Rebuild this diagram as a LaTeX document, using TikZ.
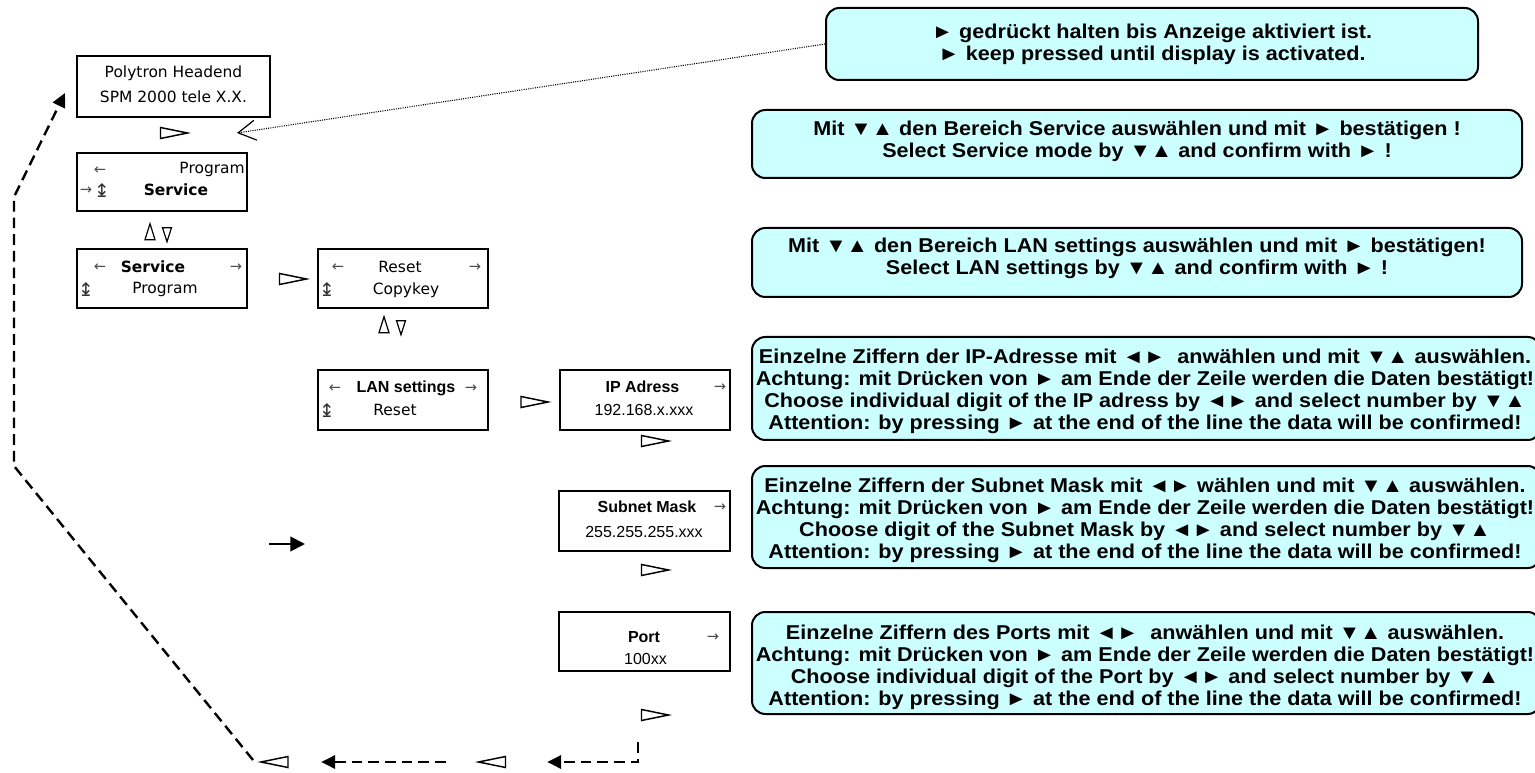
\documentclass[tikz,border=0pt]{standalone}
\usepackage{fontspec}
\setmainfont{DejaVu Sans}
\newfontfamily\arialfont{Liberation Sans}
\newfontfamily\notefont[FakeStretch=1.08]{Liberation Sans}
\usetikzlibrary{arrows.meta,shapes.geometric}
\def\pxu{0.75pt}
\definecolor{notecyan}{HTML}{CCFFFF}
\tikzset{
  lcd/.style={draw, line width=1.5pt, inner sep=0pt},
  note/.style={draw, line width=1.5pt, rounded corners=10pt, fill=notecyan, inner sep=0pt},
  notetext/.style={align=center, inner sep=0pt, font=\notefont\bfseries\fontsize{15pt}{16.5pt}\selectfont},
  vtext/.style={inner sep=0pt, font=\fontsize{11.6pt}{14pt}\selectfont},
  vbold/.style={inner sep=0pt, font=\bfseries\fontsize{11.6pt}{14pt}\selectfont},
  atext/.style={inner sep=0pt, font=\arialfont\fontsize{12pt}{14pt}\selectfont},
  abold/.style={inner sep=0pt, font=\arialfont\bfseries\fontsize{12pt}{14pt}\selectfont},
  sarr/.style={inner sep=0pt, text=black!70, font=\fontsize{11pt}{12pt}\selectfont},
  updown/.style={inner sep=0pt, text=black!80, font=\fontsize{14pt}{16pt}\selectfont},
  ptrr/.style={isosceles triangle, isosceles triangle stretches, draw, line width=1.1pt, inner sep=0pt,
     minimum width=11*\pxu, minimum height=27*\pxu},
  ptrl/.style={ptrr, shape border rotate=180},
  updn/.style={isosceles triangle, isosceles triangle stretches, draw, line width=0.9pt, inner sep=0pt,
     minimum width=10*\pxu, minimum height=16*\pxu},
  dashback/.style={line width=1.8pt, dash pattern=on 8pt off 4.5pt, -{Triangle[length=10.5pt,width=10pt]}},
  dotarrow/.style={line width=0.8pt, dash pattern=on 0.8pt off 0.9pt, -{Straight Barb[length=13pt,width=15pt,line width=0.9pt]}},
}
\begin{document}
\begin{tikzpicture}[x=0.75pt,y=-0.75pt]
\useasboundingbox (0,0) rectangle (1535,773);

% ---------- LCD boxes ----------
\node[lcd, minimum width=193*\pxu, minimum height=61*\pxu] (bA) at (173.5,86.5) {};
\node[vtext] (tA1) at (173.5,73) {Polytron Headend};
\node[vtext] (tA2) at (173.5,97) {SPM 2000 tele X.X.};

\node[lcd, minimum width=170*\pxu, minimum height=58*\pxu] (bB) at (162,182.5) {};
\node[sarr] (tB0) at (100,171) {←};
\node[vtext, anchor=east] (tB1) at (245,169) {Program};
\node[sarr] (tB2) at (86,191) {→};
\node[updown] (tB2b) at (102,191) {↨};
\node[vbold] (tB3) at (176,190) {Service};

\node[lcd, minimum width=170*\pxu, minimum height=59*\pxu] (bC) at (162,278.5) {};
\node[sarr] (tC0) at (100,268) {←};
\node[vbold] (tC1) at (153,267) {Service};
\node[sarr] (tC2) at (236,268) {→};
\node[updown] (tC3) at (86,290) {↨};
\node[vtext] (tC4) at (165,289) {Program};

\node[lcd, minimum width=170*\pxu, minimum height=59*\pxu] (bD) at (403,279) {};
\node[sarr] (tD0) at (338,268) {←};
\node[vtext] (tD1) at (400,267) {Reset};
\node[sarr] (tD2) at (475,268) {→};
\node[updown] (tD3) at (327,290) {↨};
\node[vtext] (tD4) at (406,290) {Copykey};

\node[lcd, minimum width=170*\pxu, minimum height=60*\pxu] (bE) at (403,400) {};
\node[sarr] (tE0) at (335,389) {←};
\node[abold] (tE1) at (406,388) {LAN settings};
\node[sarr] (tE2) at (471,389) {→};
\node[updown] (tE3) at (327,411) {↨};
\node[vtext] (tE4) at (395,410) {Reset};

\node[lcd, minimum width=170*\pxu, minimum height=60*\pxu] (bF) at (645,400) {};
\node[abold] (tF1) at (642.5,387) {IP Adress};
\node[sarr] (tF2) at (720,388) {→};
\node[atext] (tF3) at (644,410) {192.168.x.xxx};

\node[lcd, minimum width=171*\pxu, minimum height=60*\pxu] (bG) at (644.5,521) {};
\node[abold] (tG1) at (647,507) {Subnet Mask};
\node[sarr] (tG2) at (720,508) {→};
\node[atext] (tG3) at (644,532) {255.255.255.xxx};

\node[lcd, minimum width=171*\pxu, minimum height=59*\pxu] (bH) at (644.5,641.5) {};
\node[abold] (tH1) at (644,637) {Port};
\node[sarr] (tH2) at (713,638) {→};
\node[atext] (tH3) at (645.5,659) {100xx};

% ---------- pointer triangles ----------
\node[ptrr] (p1) at (165,133) {};
\node[ptrr] (p2) at (284,279) {};
\node[ptrr] (p3) at (525.5,402) {};
\node[ptrr] (p4) at (646,441) {};
\node[ptrr] (p5) at (646,570) {};
\node[ptrr] (p6) at (646,715) {};
\node[ptrl] (q2) at (501,762) {};
\node[ptrl] (q1) at (283.5,762) {};

\node[updn, shape border rotate=90] (u1) at (150,236) {};
\node[updn, shape border rotate=-90, minimum width=9*\pxu, minimum height=14*\pxu] (d1) at (167,231) {};
\node[updn, shape border rotate=90] (u2) at (384,329) {};
\node[updn, shape border rotate=-90, minimum width=9*\pxu, minimum height=14*\pxu] (d2) at (401,324) {};

% ---------- notes ----------
\node[note, minimum width=652*\pxu, minimum height=72*\pxu] (n1) at (1152,44) {};
\node[notetext] (m1) at (1152,44) {► gedrückt halten bis Anzeige aktiviert ist.\\► keep pressed until display is activated.};
\node[note, minimum width=770*\pxu, minimum height=68*\pxu] (n2) at (1137,144) {};
\node[notetext] (m2) at (1137,141) {Mit ▼▲ den Bereich Service auswählen und mit ► bestätigen !\\Select Service mode by ▼▲ and confirm with ► !};
\node[note, minimum width=770*\pxu, minimum height=69*\pxu] (n3) at (1137,262.5) {};
\node[notetext] (m3) at (1137,258) {Mit ▼▲ den Bereich LAN settings auswählen und mit ► bestätigen!\\Select LAN settings by ▼▲ and confirm with ► !};
\node[note, minimum width=789*\pxu, minimum height=103*\pxu] (n4) at (1146.5,388.5) {};
\node[notetext] (m4) at (1145,391) {Einzelne Ziffern der IP-Adresse mit ◄►\ \ anwählen und mit ▼▲ auswählen.\\Achtung: mit Drücken von ► am Ende der Zeile werden die Daten bestätigt!\\Choose individual digit of the IP adress by ◄► and select number by ▼▲\\Attention: by pressing ► at the end of the line the data will be confirmed!};
\node[note, minimum width=789*\pxu, minimum height=102*\pxu] (n5) at (1146.5,517) {};
\node[notetext] (m5) at (1145,520) {Einzelne Ziffern der Subnet Mask mit ◄► wählen und mit ▼▲ auswählen.\\Achtung: mit Drücken von ► am Ende der Zeile werden die Daten bestätigt!\\Choose digit of the Subnet Mask by ◄► and select number by ▼▲\\Attention: by pressing ► at the end of the line the data will be confirmed!};
\node[note, minimum width=789*\pxu, minimum height=102*\pxu] (n6) at (1146.5,663) {};
\node[notetext] (m6) at (1145,667) {Einzelne Ziffern des Ports mit ◄►\ \ anwählen und mit ▼▲ auswählen.\\Achtung: mit Drücken von ► am Ende der Zeile werden die Daten bestätigt!\\Choose individual digit of the Port by ◄► and select number by ▼▲\\Attention: by pressing ► at the end of the line the data will be confirmed!};

% ---------- connectors ----------
\coordinate (hold) at (237,133);
\draw[dotarrow] (n1.west) -- (hold);

\coordinate (c1) at (638,742);
\draw[dashback, shorten >=41*\pxu] (c1) |- (q2);
\draw[dashback, shorten <=31*\pxu, shorten >=32.5*\pxu] (q2) -- (q1);

\coordinate (b0) at (253,760);
\coordinate (b1) at (14,466);
\coordinate (b2) at (14,197);
\coordinate (b3) at (65,93);
\draw[dashback] (b0) -- (b1) -- (b2) -- (b3);

\coordinate (fa1) at (269,544);
\coordinate (fa2) at (305,544);
\draw[line width=1.5pt, -{Triangle[length=11pt,width=11pt]}] (fa1) -- (fa2);
\end{tikzpicture}
\end{document}
